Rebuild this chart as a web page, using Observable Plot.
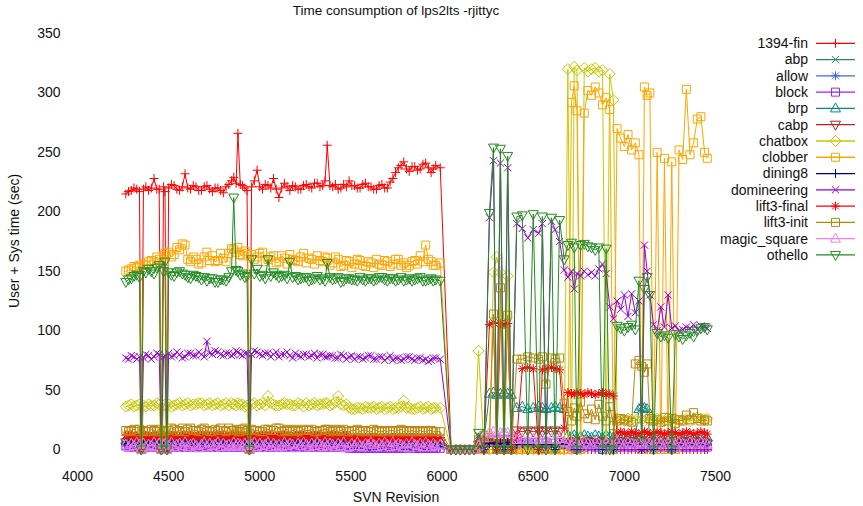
<!DOCTYPE html>
<html><head><meta charset="utf-8">
<script src="https://cdn.jsdelivr.net/npm/d3@7"></script>
<script src="https://cdn.jsdelivr.net/npm/@observablehq/plot@0.6"></script>
<style>
html,body{margin:0;padding:0;background:#fff;}
#chart{position:relative;width:863px;height:506px;}
</style></head><body><div id="chart"></div>
<script>
const FONT = "'Liberation Sans', Arial, Helvetica, sans-serif";
const titleText = "Time consumption of lps2lts -rjittyc";
const xLabel = "SVN Revision";
const yLabel = "User + Sys time (sec)";
const xTicks = [4000, 4500, 5000, 5500, 6000, 6500, 7000, 7500];
const yTicks = [0, 50, 100, 150, 200, 250, 300, 350];

const revisions = [
 4265, 4280, 4295, 4310, 4325, 4340, 4350, 4362, 4375, 4390,
 4405, 4420, 4435, 4448, 4460, 4472, 4480, 4490, 4500, 4515,
 4530, 4545, 4560, 4575, 4590, 4605, 4620, 4635, 4650, 4665,
 4680, 4695, 4710, 4725, 4740, 4755, 4770, 4785, 4800, 4815,
 4830, 4845, 4857, 4870, 4880, 4893, 4905, 4918, 4930, 4943,
 4955, 4970, 4985, 5000, 5015, 5030, 5045, 5060, 5075, 5090,
 5105, 5120, 5135, 5150, 5165, 5180, 5195, 5210, 5225, 5240,
 5255, 5270, 5285, 5300, 5315, 5330, 5345, 5358, 5370, 5385,
 5400, 5415, 5430, 5445, 5460, 5475, 5490, 5505, 5520, 5535,
 5550, 5565, 5580, 5595, 5610, 5625, 5640, 5655, 5670, 5685,
 5700, 5715, 5730, 5745, 5760, 5775, 5790, 5805, 5820, 5835,
 5850, 5865, 5880, 5895, 5910, 5925, 5940, 5952, 5965, 5990,
 6050, 6075, 6100, 6125, 6150, 6175,
 6200, 6230, 6260, 6282, 6300, 6320, 6340, 6360, 6380, 6410,
 6440, 6470, 6500, 6530, 6550, 6570, 6600, 6620, 6645, 6670,
 6690, 6710, 6725, 6740, 6760, 6780, 6800, 6820, 6840, 6860,
 6880, 6900, 6920, 6940, 6960, 6980, 7000, 7020, 7040, 7060,
 7080, 7095, 7110, 7125, 7140, 7160, 7180, 7200, 7220, 7240,
 7260, 7280, 7300, 7320, 7340, 7360, 7380, 7400, 7420, 7440, 7455];

const fin1394 = [
 215, 217, 218, 220, 219, 217, 0, 219, 221, 218,
 220, 228, 219, 219, 0, 221, 217, 0, 220, 223,
 222, 219, 218, 221, 232, 220, 219, 222, 221, 218,
 218, 221, 222, 219, 217, 220, 220, 218, 216, 221,
 223, 226, 229, 224, 266, 223, 222, 220, 218, 0,
 221, 226, 235, 221, 219, 223, 222, 220, 228, 219,
 212, 220, 224, 221, 218, 222, 221, 219, 219, 222,
 223, 221, 220, 224, 224, 221, 222, 226, 256, 222,
 221, 223, 219, 220, 223, 221, 226, 222, 222, 220,
 220, 223, 224, 221, 221, 219, 219, 222, 223, 220,
 220, 225, 228, 233, 237, 239, 242, 236, 234, 238,
 238, 235, 236, 240, 241, 237, 233, 236, 239, 237,
 0, 0, 0, 0, 0, 0,
 0, 0, 0, 0, 0, 0, 0, 0, 0, 0,
 0, 0, 0, 0, 0, 0, 0, 0, 0, 0,
 0, 0, 0, 0, 0, 0, 0, 0, 0, 0,
 0, 0, 0, 0, 0, 0, 0, 0, 0, 0,
 0, 0, 0, 0, 0, 0, 0, 0, 0, 0,
 0, 0, 0, 0, 0, 0, 0, 0, 0, 0, 0];

const abp = [
 5, 5, 4, 5, 5, 4, 0, 5, 5, 4,
 5, 5, 4, 5, 0, 5, 4, 0, 5, 5,
 4, 5, 5, 4, 5, 5, 4, 5, 5, 4,
 5, 5, 4, 5, 5, 4, 5, 5, 4, 5,
 5, 4, 5, 5, 4, 5, 5, 4, 5, 0,
 5, 4, 5, 5, 4, 5, 5, 4, 5, 5,
 4, 5, 5, 4, 5, 5, 4, 5, 5, 4,
 5, 5, 4, 5, 5, 4, 5, 5, 4, 5,
 5, 4, 5, 5, 4, 5, 4, 4, 3, 4,
 4, 3, 4, 4, 3, 4, 4, 3, 4, 4,
 3, 4, 4, 3, 4, 4, 3, 4, 4, 3,
 4, 4, 3, 4, 4, 3, 4, 4, 3, 4,
 0, 0, 0, 0, 0, 0,
 3, 0, 5, 6, 0, 5, 0, 6, 0, 4,
 5, 4, 5, 0, 4, 5, 4, 0, 5, 4,
 4, 3, 4, 0, 4, 3, 4, 4, 3, 4,
 0, 4, 3, 0, 5, 6, 5, 6, 5, 6,
 5, 0, 6, 5, 6, 0, 5, 6, 5, 6,
 0, 5, 6, 5, 6, 5, 6, 5, 6, 5, 6];

const allow = [
 3, 3, 2, 3, 3, 2, 0, 3, 3, 2,
 3, 3, 2, 3, 0, 3, 2, 0, 3, 3,
 2, 3, 3, 2, 3, 3, 2, 3, 3, 2,
 3, 3, 2, 3, 3, 2, 3, 3, 2, 3,
 3, 2, 3, 3, 2, 3, 3, 2, 3, 0,
 3, 2, 3, 3, 2, 3, 3, 2, 3, 3,
 2, 3, 3, 2, 3, 3, 2, 3, 3, 2,
 3, 3, 2, 3, 3, 2, 3, 3, 2, 3,
 3, 2, 3, 3, 2, 3, 2, 2, 2, 2,
 2, 2, 3, 2, 2, 2, 3, 2, 2, 2,
 3, 2, 2, 2, 3, 2, 2, 2, 3, 2,
 2, 2, 3, 2, 2, 2, 3, 2, 2, 2,
 0, 0, 0, 0, 0, 0,
 2, 0, 4, 5, 0, 4, 0, 5, 0, 3,
 4, 3, 4, 0, 3, 4, 3, 0, 4, 3,
 3, 2, 3, 0, 3, 2, 3, 3, 2, 3,
 0, 3, 2, 0, 4, 4, 3, 4, 4, 3,
 4, 0, 4, 3, 4, 0, 4, 3, 4, 4,
 0, 3, 4, 4, 3, 4, 4, 3, 4, 4, 3];

const block = [
 3, 2, 3, 2, 3, 2, 0, 3, 2, 3,
 2, 3, 2, 3, 0, 2, 3, 0, 2, 3,
 2, 3, 2, 3, 2, 3, 2, 3, 2, 3,
 2, 3, 2, 3, 2, 3, 2, 3, 2, 3,
 2, 3, 2, 3, 2, 3, 2, 3, 2, 0,
 3, 2, 3, 2, 3, 2, 3, 2, 3, 2,
 3, 2, 3, 2, 3, 2, 3, 2, 3, 2,
 3, 2, 3, 2, 3, 2, 3, 2, 3, 2,
 3, 2, 3, 2, 3, 2, 1, 1, 1, 1,
 1, 1, 1, 1, 1, 1, 1, 1, 1, 1,
 1, 1, 1, 1, 1, 1, 1, 1, 1, 1,
 1, 1, 1, 1, 1, 1, 1, 1, 1, 1,
 0, 0, 0, 0, 0, 0,
 2, 0, 6, 8, 0, 7, 0, 8, 0, 5,
 6, 5, 6, 0, 5, 6, 5, 0, 6, 4,
 3, 2, 3, 0, 3, 2, 3, 3, 2, 3,
 0, 3, 2, 0, 2, 2, 3, 2, 2, 3,
 2, 0, 3, 2, 2, 0, 2, 3, 2, 2,
 0, 2, 3, 2, 2, 3, 2, 2, 3, 2, 2];

const brp = [
 8, 8, 7, 8, 9, 8, 0, 8, 7, 8,
 8, 7, 8, 8, 0, 8, 7, 0, 8, 8,
 7, 8, 9, 8, 7, 8, 8, 7, 8, 8,
 9, 8, 7, 8, 8, 7, 8, 9, 8, 7,
 8, 8, 7, 8, 9, 8, 7, 8, 8, 0,
 8, 7, 8, 9, 8, 7, 8, 8, 7, 8,
 9, 8, 7, 8, 8, 7, 8, 9, 8, 7,
 8, 8, 7, 8, 9, 8, 7, 8, 8, 7,
 8, 9, 8, 7, 8, 8, 7, 8, 9, 8,
 7, 8, 8, 7, 8, 9, 8, 7, 8, 8,
 7, 8, 9, 8, 7, 8, 8, 7, 8, 9,
 8, 7, 8, 8, 7, 8, 9, 8, 7, 7,
 0, 0, 0, 0, 0, 0,
 6, 8, 47, 48, 46, 47, 48, 47, 46, 35,
 36, 34, 35, 36, 35, 34, 35, 36, 35, 34,
 12, 11, 12, 10, 11, 12, 11, 10, 12, 11,
 10, 12, 11, 10, 10, 9, 10, 11, 10, 9,
 34, 36, 35, 34, 10, 9, 10, 11, 10, 9,
 10, 11, 10, 9, 10, 11, 10, 9, 10, 11, 10];

const cabp = [
 6, 7, 6, 6, 7, 6, 0, 7, 6, 6,
 7, 6, 6, 7, 0, 6, 6, 0, 7, 6,
 6, 7, 6, 6, 7, 6, 6, 7, 6, 6,
 7, 6, 6, 7, 6, 6, 7, 6, 6, 7,
 6, 6, 7, 6, 6, 7, 6, 6, 7, 0,
 6, 7, 6, 6, 7, 6, 6, 7, 6, 6,
 7, 6, 6, 7, 6, 6, 7, 6, 6, 7,
 6, 6, 7, 6, 6, 7, 6, 6, 7, 6,
 6, 7, 6, 6, 7, 6, 6, 6, 6, 6,
 6, 6, 6, 6, 6, 6, 6, 6, 6, 6,
 6, 6, 6, 6, 6, 6, 6, 6, 6, 6,
 6, 6, 6, 6, 6, 6, 6, 6, 6, 6,
 0, 0, 0, 0, 0, 0,
 4, 6, 8, 9, 8, 9, 8, 9, 8, 16,
 15, 16, 15, 16, 15, 16, 15, 16, 15, 6,
 5, 6, 7, 6, 5, 6, 7, 6, 5, 6,
 7, 6, 5, 6, 7, 6, 5, 6, 7, 6,
 5, 6, 7, 6, 5, 6, 7, 6, 5, 6,
 7, 6, 5, 6, 7, 6, 5, 6, 7, 6, 5];

const chatbox = [
 36, 37, 38, 36, 37, 38, 0, 37, 36, 38,
 37, 37, 39, 38, 0, 37, 38, 0, 38, 36,
 37, 38, 39, 37, 38, 39, 37, 38, 38, 39,
 39, 37, 38, 39, 37, 38, 39, 37, 38, 39,
 37, 39, 38, 37, 39, 38, 38, 36, 37, 0,
 38, 39, 37, 38, 39, 37, 45, 39, 38, 37,
 37, 38, 39, 38, 38, 37, 37, 39, 38, 36,
 39, 37, 38, 39, 37, 38, 38, 39, 39, 37,
 38, 40, 45, 38, 37, 38, 35, 34, 34, 35,
 35, 34, 36, 35, 35, 36, 34, 35, 36, 34,
 35, 36, 34, 35, 35, 36, 41, 35, 35, 34,
 34, 35, 36, 34, 35, 36, 34, 35, 35, 35,
 0, 0, 0, 0, 0, 0,
 83, 0, 0, 149, 162, 149, 0, 146, 0, 0,
 0, 0, 0, 0, 0, 0, 0, 0, 0, 0,
 320, 0, 322, 319, 0, 321, 318, 320, 321, 318,
 319, 0, 316, 294, 26, 25, 24, 26, 25, 24,
 27, 25, 24, 26, 25, 24, 26, 25, 24, 27,
 25, 26, 24, 25, 26, 24, 25, 27, 26, 25, 26];

const clobber = [
 150, 151, 152, 154, 153, 155, 0, 156, 155, 158,
 159, 157, 162, 160, 0, 163, 165, 0, 166, 162,
 164, 170, 168, 173, 172, 160, 158, 162, 160, 156,
 157, 162, 166, 159, 163, 158, 159, 165, 161, 158,
 165, 169, 168, 166, 170, 164, 163, 167, 165, 0,
 164, 160, 162, 165, 166, 158, 160, 162, 163, 157,
 158, 163, 161, 156, 164, 160, 159, 158, 162, 165,
 157, 161, 160, 156, 163, 159, 158, 162, 161, 155,
 157, 162, 160, 154, 155, 159, 158, 153, 156, 160,
 159, 155, 154, 158, 157, 153, 160, 156, 155, 159,
 158, 154, 156, 160, 160, 155, 157, 153, 155, 158,
 159, 156, 163, 158, 172, 160, 158, 155, 155, 157,
 0, 0, 0, 0, 0, 0,
 0, 0, 0, 0, 0, 0, 0, 0, 0, 0,
 0, 0, 0, 0, 0, 0, 0, 0, 0, 0,
 0, 292, 306, 285, 0, 283, 302, 298, 305, 300,
 290, 296, 286, 0, 270, 262, 255, 265, 252, 258,
 248, 0, 305, 298, 300, 0, 250, 0, 245, 0,
 242, 0, 252, 244, 303, 248, 258, 278, 280, 250, 245];

const dining8 = [
 4, 5, 4, 4, 5, 4, 0, 5, 4, 4,
 5, 4, 4, 5, 0, 4, 4, 0, 5, 4,
 4, 5, 4, 4, 5, 4, 4, 5, 4, 4,
 5, 4, 4, 5, 4, 4, 5, 4, 4, 5,
 4, 4, 5, 4, 4, 5, 4, 4, 5, 0,
 4, 5, 4, 4, 5, 4, 4, 5, 4, 4,
 5, 4, 4, 5, 4, 4, 5, 4, 4, 5,
 4, 4, 5, 4, 4, 5, 4, 4, 5, 4,
 4, 5, 4, 4, 5, 4, 3, 3, 3, 3,
 3, 3, 3, 3, 3, 3, 3, 3, 3, 3,
 3, 3, 3, 3, 3, 3, 3, 3, 3, 3,
 3, 3, 3, 3, 3, 3, 3, 3, 3, 3,
 0, 0, 0, 0, 0, 0,
 3, 0, 5, 6, 0, 5, 0, 6, 0, 4,
 5, 4, 5, 0, 4, 5, 4, 0, 5, 4,
 4, 3, 4, 0, 4, 3, 4, 4, 3, 4,
 0, 4, 3, 0, 3, 4, 3, 4, 3, 4,
 3, 0, 4, 3, 4, 0, 3, 4, 3, 4,
 0, 3, 4, 3, 4, 3, 4, 3, 4, 3, 4];

const domineering = [
 77, 76, 79, 78, 76, 78, 0, 77, 80, 79,
 76, 78, 81, 80, 0, 78, 79, 0, 81, 78,
 79, 82, 80, 77, 78, 81, 81, 79, 79, 82,
 80, 78, 91, 81, 80, 83, 82, 80, 79, 81,
 81, 79, 80, 83, 82, 80, 79, 81, 81, 0,
 80, 83, 82, 80, 79, 81, 81, 78, 80, 82,
 78, 80, 80, 82, 79, 77, 81, 79, 78, 80,
 80, 78, 79, 81, 77, 80, 80, 78, 78, 79,
 79, 77, 77, 80, 79, 76, 78, 79, 76, 78,
 78, 76, 77, 79, 79, 76, 76, 78, 78, 75,
 77, 79, 75, 77, 77, 75, 76, 78, 78, 76,
 75, 77, 77, 75, 76, 74, 75, 77, 77, 76,
 0, 0, 0, 0, 0, 0,
 12, 0, 195, 243, 0, 241, 0, 237, 0, 190,
 186, 178, 185, 182, 190, 0, 192, 185, 175, 151,
 145, 150, 135, 148, 146, 150, 147, 149, 146, 152,
 156, 148, 120, 110, 125, 118, 130, 112, 131, 115,
 125, 0, 172, 150, 130, 105, 100, 120, 103, 130,
 102, 104, 100, 101, 103, 102, 105, 101, 104, 103, 102];

const lift3Final = [
 12, 12, 12, 11, 11, 12, 0, 12, 12, 11,
 11, 12, 12, 12, 0, 12, 11, 0, 12, 12,
 12, 11, 11, 12, 12, 12, 12, 11, 11, 12,
 12, 12, 12, 11, 11, 12, 12, 12, 12, 11,
 11, 12, 12, 12, 12, 11, 11, 12, 12, 0,
 12, 12, 11, 11, 12, 12, 12, 12, 11, 11,
 12, 12, 12, 12, 11, 11, 12, 12, 12, 12,
 11, 11, 12, 12, 12, 12, 11, 11, 12, 12,
 12, 12, 11, 11, 12, 12, 10, 10, 10, 10,
 10, 10, 10, 10, 10, 10, 10, 10, 10, 10,
 10, 10, 10, 10, 10, 10, 10, 10, 10, 10,
 10, 10, 10, 10, 10, 10, 10, 10, 10, 10,
 0, 0, 0, 0, 0, 0,
 5, 8, 105, 107, 0, 106, 105, 106, 0, 10,
 68, 69, 68, 0, 67, 68, 69, 68, 67, 18,
 48, 47, 46, 48, 47, 46, 48, 47, 46, 47,
 48, 46, 47, 45, 14, 15, 14, 13, 15, 14,
 13, 14, 15, 14, 13, 14, 15, 14, 13, 14,
 15, 14, 13, 14, 15, 14, 13, 14, 15, 14, 13];

const lift3Init = [
 16, 15, 16, 17, 15, 17, 0, 16, 15, 15,
 17, 16, 15, 17, 0, 16, 15, 0, 16, 18,
 17, 15, 16, 18, 15, 17, 18, 16, 16, 15,
 17, 18, 16, 15, 15, 17, 16, 18, 16, 15,
 18, 16, 16, 17, 15, 15, 17, 18, 16, 0,
 17, 16, 16, 15, 15, 17, 17, 16, 16, 18,
 18, 15, 16, 17, 15, 16, 17, 15, 16, 17,
 16, 16, 17, 15, 15, 16, 16, 17, 17, 15,
 16, 17, 15, 16, 17, 15, 15, 16, 16, 17,
 15, 16, 16, 15, 15, 17, 16, 15, 15, 16,
 15, 16, 16, 15, 16, 17, 15, 16, 15, 16,
 15, 15, 16, 15, 15, 16, 16, 15, 15, 15,
 0, 0, 0, 0, 0, 0,
 8, 12, 10, 114, 0, 136, 0, 113, 0, 76,
 76, 78, 77, 76, 78, 55, 77, 76, 77, 39,
 32, 24, 35, 28, 40, 30, 26, 34, 25, 38,
 28, 24, 36, 20, 24, 26, 25, 24, 23, 72,
 75, 70, 65, 72, 26, 24, 25, 23, 27, 24,
 26, 22, 25, 24, 29, 25, 31, 26, 24, 25, 24];

const magicSquare = [
 4, 2, 5, 3, 6, 4, 0, 5, 2, 4,
 3, 6, 2, 5, 0, 4, 5, 0, 3, 6,
 2, 4, 5, 3, 6, 2, 4, 5, 3, 1,
 4, 6, 2, 5, 3, 4, 6, 2, 5, 3,
 4, 2, 6, 3, 5, 4, 2, 5, 3, 0,
 4, 6, 2, 5, 3, 4, 6, 2, 5, 3,
 4, 2, 6, 3, 5, 4, 1, 5, 3, 6,
 4, 2, 5, 3, 6, 4, 2, 6, 3, 5,
 4, 2, 5, 3, 6, 1, 2, 5, 3, 6,
 3, 2, 5, 4, 6, 4, 2, 5, 3, 6,
 4, 2, 6, 3, 5, 4, 2, 5, 1, 6,
 4, 3, 5, 2, 6, 4, 2, 5, 3, 4,
 0, 0, 0, 0, 0, 0,
 3, 10, 14, 15, 13, 14, 15, 14, 13, 8,
 9, 8, 9, 8, 9, 8, 9, 8, 9, 6,
 5, 4, 6, 5, 4, 6, 5, 4, 6, 5,
 4, 6, 5, 4, 6, 5, 4, 6, 5, 4,
 6, 5, 4, 6, 5, 4, 6, 5, 4, 6,
 5, 4, 6, 5, 4, 6, 5, 4, 6, 5, 4];

const othello = [
 141, 143, 144, 146, 147, 145, 0, 150, 149, 152,
 150, 148, 153, 155, 0, 150, 158, 0, 149, 147,
 146, 149, 150, 148, 147, 145, 144, 147, 146, 145,
 143, 145, 142, 144, 144, 141, 141, 143, 143, 142,
 145, 150, 212, 151, 150, 147, 148, 145, 146, 0,
 160, 148, 152, 146, 147, 144, 160, 146, 149, 147,
 145, 146, 147, 144, 158, 145, 146, 143, 144, 145,
 145, 142, 143, 144, 146, 143, 144, 142, 157, 145,
 143, 144, 145, 141, 142, 144, 144, 143, 143, 142,
 145, 143, 142, 144, 144, 142, 143, 145, 145, 143,
 142, 144, 144, 142, 143, 145, 142, 143, 144, 142,
 143, 144, 145, 142, 142, 143, 144, 142, 143, 142,
 0, 0, 0, 0, 0, 0,
 14, 0, 199, 254, 0, 253, 0, 247, 0, 196,
 197, 0, 198, 0, 196, 0, 195, 0, 193, 160,
 172, 174, 170, 0, 172, 173, 171, 170, 168, 170,
 0, 169, 0, 0, 104, 102, 100, 103, 105, 101,
 142, 8, 135, 145, 130, 0, 98, 95, 96, 94,
 0, 97, 95, 93, 96, 98, 95, 100, 102, 103, 101];

// marker shapes (gnuplot point types)
const plusSym = {draw(c){const h=4.5;c.moveTo(-h,0);c.lineTo(h,0);c.moveTo(0,-h);c.lineTo(0,h);}};
const timesSym = {draw(c){const h=3.6;c.moveTo(-h,-h);c.lineTo(h,h);c.moveTo(-h,h);c.lineTo(h,-h);}};
const starSym = {draw(c){const h=4.5,k=3.4;c.moveTo(-h,0);c.lineTo(h,0);c.moveTo(0,-h);c.lineTo(0,h);c.moveTo(-k,-k);c.lineTo(k,k);c.moveTo(-k,k);c.lineTo(k,-k);}};
const squareSym = {draw(c){const h=4;c.moveTo(-h,-h);c.lineTo(h,-h);c.lineTo(h,h);c.lineTo(-h,h);c.closePath();}};
const triUpSym = {draw(c){c.moveTo(0,-5.5);c.lineTo(5,3.5);c.lineTo(-5,3.5);c.closePath();}};
const triDownSym = {draw(c){c.moveTo(0,5.5);c.lineTo(5,-3.5);c.lineTo(-5,-3.5);c.closePath();}};
const diamondSym = {draw(c){const h=5.5;c.moveTo(0,-h);c.lineTo(h,0);c.lineTo(0,h);c.lineTo(-h,0);c.closePath();}};

const seriesNames = ["1394-fin","abp","allow","block","brp","cabp","chatbox","clobber","dining8","domineering","lift3-final","lift3-init","magic_square","othello"];
const seriesColors = ["#ff0000","#2e8b57","#4169e1","#a020f0","#008b8b","#b22222","#c8c800","#ffa500","#00008b","#9400d3","#ff0000","#b8860b","#ee82ee","#228b22"];
const seriesValues = [fin1394, abp, allow, block, brp, cabp, chatbox, clobber, dining8, domineering, lift3Final, lift3Init, magicSquare, othello];
const seriesSymbols = [plusSym, timesSym, starSym, squareSym, triUpSym, triDownSym, diamondSym, squareSym, plusSym, timesSym, starSym, squareSym, triUpSym, triDownSym];

seriesValues.forEach((v, i) => {
  if (v.length !== revisions.length) throw new Error(seriesNames[i] + " length " + v.length + " != " + revisions.length);
});

const marks = [];
seriesValues.forEach((vals, i) => {
  marks.push(Plot.line(revisions, {x: revisions, y: vals, stroke: seriesColors[i], strokeWidth: 1}));
  marks.push(Plot.dot(revisions, {x: revisions, y: vals, symbol: seriesSymbols[i], stroke: seriesColors[i], fill: "none", strokeWidth: 1, r: 5}));
});

const chart = Plot.plot({
  width: 863, height: 506,
  marginTop: 33, marginBottom: 57, marginLeft: 77, marginRight: 148,
  style: {fontFamily: FONT, fontSize: "14px", color: "#111", background: "#fff", overflow: "visible"},
  x: {domain: [4000, 7500], ticks: xTicks, tickFormat: "d", tickSize: 0, tickPadding: 22, label: null},
  y: {domain: [0, 350], ticks: yTicks, tickFormat: "d", tickSize: 0, tickPadding: 17, label: null},
  marks
});
document.getElementById("chart").appendChild(chart);

const svg = d3.select(chart);
svg.append("text").attr("x", 396).attr("y", 10).attr("dy", "0.35em").attr("text-anchor", "middle")
  .attr("font-size", 13.5).attr("fill", "#111").text(titleText);
svg.append("text").attr("x", 396).attr("y", 497).attr("dy", "0.35em").attr("text-anchor", "middle")
  .attr("font-size", 14).attr("fill", "#111").text(xLabel);
svg.append("text").attr("transform", "translate(14,241) rotate(-90)").attr("dy", "0.35em").attr("text-anchor", "middle")
  .attr("font-size", 14).attr("fill", "#111").text(yLabel);

const lg = svg.append("g").attr("font-size", 14);
seriesNames.forEach((name, i) => {
  const y = 43.3 + i * 16.28;
  lg.append("text").attr("x", 808).attr("y", y).attr("dy", "0.35em").attr("text-anchor", "end").attr("fill", "#111").text(name);
  lg.append("line").attr("x1", 816).attr("x2", 855).attr("y1", y).attr("y2", y).attr("stroke", seriesColors[i]).attr("stroke-width", 1.3);
  lg.append("path").attr("transform", `translate(835.5,${y})`).attr("d", d3.symbol(seriesSymbols[i])()).attr("fill", "none").attr("stroke", seriesColors[i]);
});
</script></body></html>
